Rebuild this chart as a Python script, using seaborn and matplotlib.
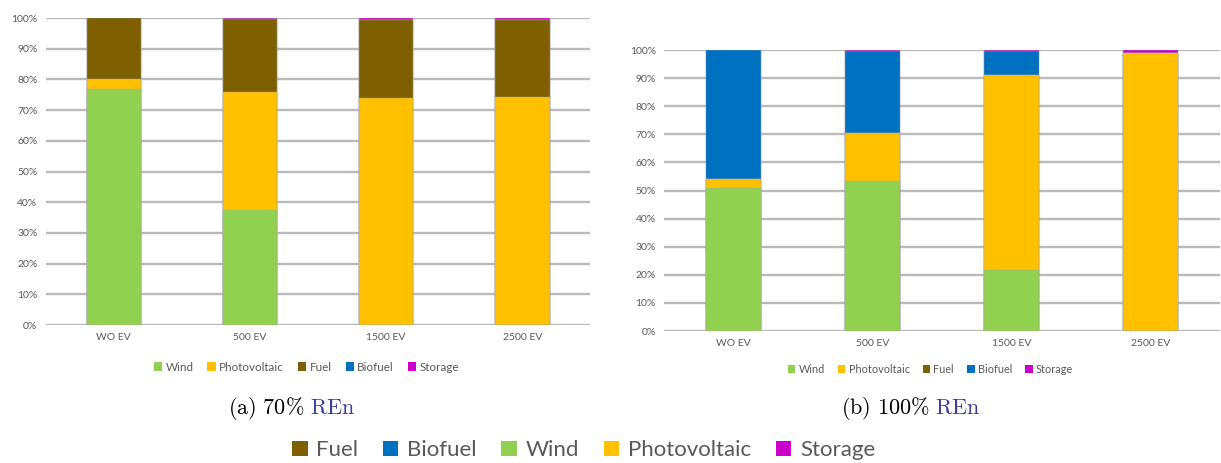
import pandas as pd
import matplotlib.pyplot as plt
import seaborn as sns
from matplotlib.patches import Patch

# Data (share of energy, %)
scenarios = ["WO EV", "500 EV", "1500 EV", "2500 EV"]
sources = ["Wind", "Photovoltaic", "Fuel", "Biofuel", "Storage"]

wind_70 = [77.0, 37.5, 0.0, 0.0]
pv_70 = [3.0, 38.5, 74.0, 74.2]
fuel_70 = [20.0, 23.6, 25.3, 25.1]
biofuel_70 = [0.0, 0.0, 0.0, 0.0]
storage_70 = [0.0, 0.4, 0.7, 0.7]

wind_100 = [51.0, 53.3, 21.8, 0.0]
pv_100 = [3.0, 17.0, 69.2, 98.8]
fuel_100 = [0.0, 0.0, 0.0, 0.0]
biofuel_100 = [46.0, 29.3, 8.5, 0.2]
storage_100 = [0.0, 0.4, 0.5, 1.0]

colors = {"Wind": "#92D050", "Photovoltaic": "#FFC000", "Fuel": "#7F6000",
          "Biofuel": "#0070C0", "Storage": "#CC00CC"}
grey = "#595959"

sns.set_theme(style="white")
plt.rcParams["font.family"] = ["Lato", "DejaVu Sans"]
plt.rcParams["mathtext.fontset"] = "cm"


def make_df(series):
    df = pd.DataFrame(series, index=sources, columns=scenarios).T
    df = df.cumsum(axis=1)
    df.index.name = "Scenario"
    return df.reset_index()


def draw(ax, df):
    # draw cumulative totals from the top of the stack down
    for src in reversed(sources):
        sns.barplot(data=df, x="Scenario", y=src, color=colors[src], ax=ax,
                    width=0.4, saturation=1, edgecolor="#A6A6A6", linewidth=0.3,
                    order=scenarios)
    ax.set_ylim(0, 100)
    ax.set_xlim(-0.5, 3.5)
    ax.set_yticks(range(0, 101, 10))
    ax.set_yticklabels([f"{v}%" for v in range(0, 101, 10)])
    ax.yaxis.grid(True, color="#BABABA", linewidth=1.7)
    ax.set_axisbelow(True)
    ax.set_xlabel("")
    ax.set_ylabel("")
    ax.tick_params(axis="both", labelsize=7.5, labelcolor=grey, length=0, pad=6)
    sns.despine(ax=ax, left=True, bottom=True)


fig = plt.figure(figsize=(12.21, 4.63), dpi=100)
ax1 = fig.add_axes([0.0375, 0.298, 0.446, 0.663])
ax2 = fig.add_axes([0.544, 0.285, 0.455, 0.607])

df70 = make_df([wind_70, pv_70, fuel_70, biofuel_70, storage_70])
df100 = make_df([wind_100, pv_100, fuel_100, biofuel_100, storage_100])
draw(ax1, df70)
draw(ax2, df100)

handles = [Patch(facecolor=colors[s], edgecolor="none") for s in sources]
for x, y, fs in [(0.251, 0.207, 8.4), (0.762, 0.203, 7.8)]:
    fig.legend(handles, sources, loc="center", ncol=5, frameon=False,
               bbox_to_anchor=(x, y), fontsize=fs,
               labelcolor=grey, handlelength=0.7, handleheight=0.7,
               handletextpad=0.3, columnspacing=1.2)

# sub-captions
for x, lab in [(0.249, r"$\mathrm{(a)\ 70\%}$"), (0.761, r"$\mathrm{(b)\ 100\%}$")]:
    fig.text(x, 0.118, lab, ha="right", va="center", fontsize=16, color="black")
    fig.text(x + 0.005, 0.118, r"$\mathrm{REn}$", ha="left", va="center",
             fontsize=16, color="#3A3F9C")

order_bottom = ["Fuel", "Biofuel", "Wind", "Photovoltaic", "Storage"]
handles_b = [Patch(facecolor=colors[s], edgecolor="none") for s in order_bottom]
fig.legend(handles_b, order_bottom, loc="center", ncol=5, frameon=False,
           bbox_to_anchor=(0.478, 0.027), fontsize=16, labelcolor=grey,
           handlelength=0.7, handleheight=0.7, handletextpad=0.4,
           columnspacing=1.1)

plt.savefig("out.png", dpi=100)
